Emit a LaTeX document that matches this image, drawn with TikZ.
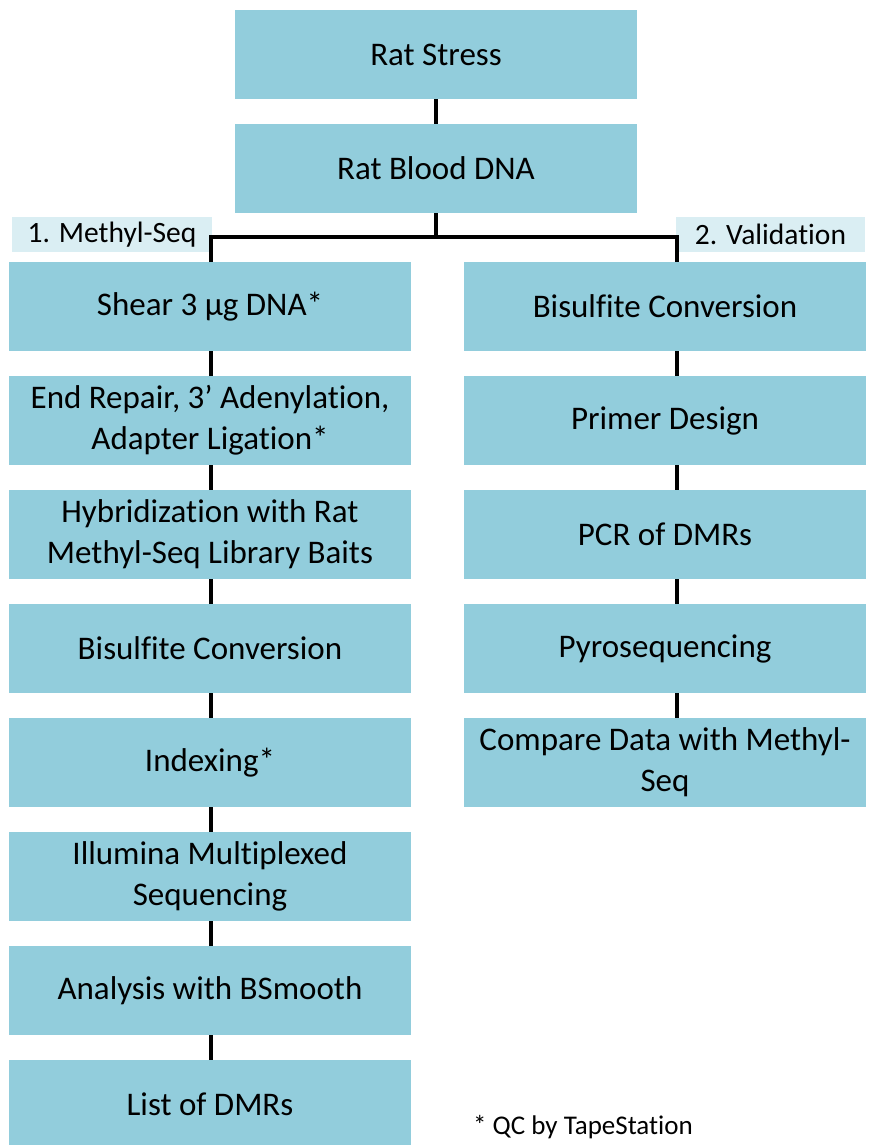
\documentclass[tikz,border=0pt]{standalone}
\usepackage{fontspec}
\setmainfont{Carlito}[Ligatures={NoCommon}]
\definecolor{boxblue}{HTML}{92CDDC}
\definecolor{labblue}{HTML}{DAEEF3}
\begin{document}
\begin{tikzpicture}[x=1pt,y=-1pt,
  stepbox/.style={fill=boxblue, draw=none, minimum width=402pt, minimum height=89pt, inner sep=0pt, align=center, font=\fontsize{33}{41}\selectfont},
  labbox/.style={fill=labblue, draw=none, minimum height=35pt, inner sep=0pt, align=center, font=\fontsize{29.5}{34}\selectfont},
  conn/.style={draw=black, line width=3.4pt}]
\useasboundingbox (0,0) rectangle (868,1145);
% top
\node[stepbox] (rs) at (436,54.5) {Rat Stress};
\node[stepbox] (rb) at (436,168.5) {Rat Blood DNA};
% labels
\node[labbox, minimum width=200pt] (l1) at (112,234.5) {1. Methyl-Seq};
\node[labbox, minimum width=189pt] (l2) at (770.5,234.5) {2. Validation};
% left column
\node[stepbox] (a1) at (210,306.5) {Shear 3 µg DNA*};
\node[stepbox] (a2) at (210,420.5) {End Repair, 3’ Adenylation,\\Adapter Ligation*};
\node[stepbox] (a3) at (210,534.5) {Hybridization with Rat\\Methyl-Seq Library Baits};
\node[stepbox] (a4) at (210,648.5) {Bisulfite Conversion};
\node[stepbox] (a5) at (210,762.5) {Indexing*};
\node[stepbox] (a6) at (210,876.5) {Illumina Multiplexed\\Sequencing};
\node[stepbox] (a7) at (210,990.5) {Analysis with BSmooth};
\node[stepbox] (a8) at (210,1104.5) {List of DMRs};
% right column
\node[stepbox] (b1) at (665,306.5) {Bisulfite Conversion};
\node[stepbox] (b2) at (665,420.5) {Primer Design};
\node[stepbox] (b3) at (665,534.5) {PCR of DMRs};
\node[stepbox] (b4) at (665,648.5) {Pyrosequencing};
\node[stepbox] (b5) at (665,762.5) {Compare Data with Methyl-\\Seq};
% footnote
\node[font=\fontsize{27}{32}\selectfont, inner sep=0pt] (fn) at (583,1127) {* QC by TapeStation};
% connectors
\coordinate (j) at (436,237);
\draw[conn] (rs.south) -- (rb.north);
\draw[conn] (rb.south) -- (j);
\draw[conn] (211,262) |- (j) -| (677,262);
\foreach \u/\v in {a1/a2,a2/a3,a3/a4,a4/a5,a5/a6,a6/a7,a7/a8}{
  \draw[conn] ([xshift=1pt]\u.south) -- ([xshift=1pt]\v.north);
}
\foreach \u/\v in {b1/b2,b2/b3,b3/b4,b4/b5}{
  \draw[conn] ([xshift=12pt]\u.south) -- ([xshift=12pt]\v.north);
}
\end{tikzpicture}
\end{document}
